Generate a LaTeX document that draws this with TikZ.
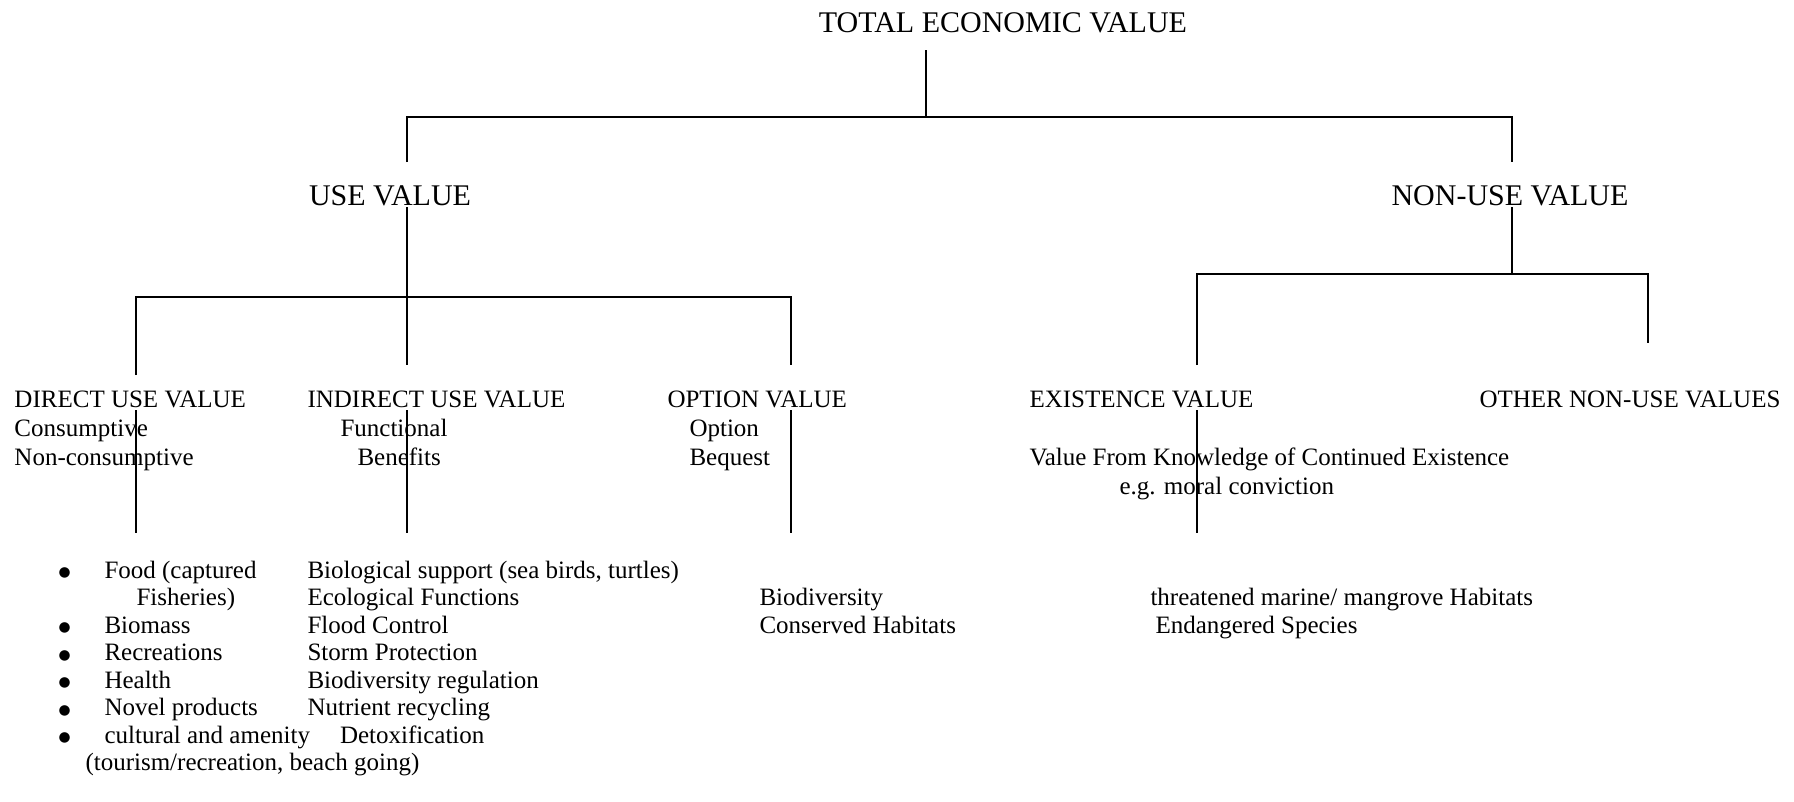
\documentclass[tikz,border=0pt]{standalone}
\usepackage{fontspec}
\setmainfont{Liberation Serif}
\newfontfamily\dotfont{DejaVu Sans}
\usepackage{tikz}
\tikzstyle{head} = [anchor=base, inner sep=0pt, font=\fontsize{12}{14}\selectfont]
\tikzstyle{block} = [anchor=base west, inner sep=0pt, font=\fontsize{10}{11.6}\selectfont]
\tikzstyle{list} = [anchor=base west, inner sep=0pt, font=\fontsize{10}{11}\selectfont]
\tikzstyle{link} = [line width=0.75pt]
\newcommand{\colrows}[1]{\begin{tabular}[t]{@{}l@{}}#1\end{tabular}}
\newcommand{\dotmark}{{\dotfont\fontsize{5.5}{6}\selectfont\raisebox{0.5pt}{●}}}

\begin{document}
\begin{tikzpicture}[x=0.4pt,y=-0.4pt]
        \useasboundingbox (0,0) rectangle (1794,801);
        % top levels
        \node (tev) [head] at (1003,32) {TOTAL ECONOMIC VALUE};
        \node (use) [head] at (390,205) {USE VALUE};
        \node (nonuse) [head] at (1510,205) {NON-USE VALUE};
        % value types
        \node (direct) [block] at (14,407) {\colrows{DIRECT USE VALUE\\Consumptive\\Non-consumptive}};
        \node (indirect) [block] at (307,407) {\colrows{INDIRECT USE VALUE\\\hspace{13.2pt}Functional\\\hspace{20pt}Benefits}};
        \node (option) [block] at (667,407) {\colrows{OPTION VALUE\\\hspace{8.8pt}Option\\\hspace{8.8pt}Bequest}};
        \node (existence) [block] at (1029,407) {\colrows{EXISTENCE VALUE\\\\Value From Knowledge of Continued Existence\\\hspace{36pt}e.g. moral conviction}};
        \node (other) [block] at (1479,407) {OTHER NON-USE VALUES};
        % examples
        \node (bullets) [list] at (58,578) {\colrows{\dotmark\\\\\dotmark\\\dotmark\\\dotmark\\\dotmark\\\dotmark}};
        \node (directex) [list] at (104,578) {\colrows{Food (captured\\\hspace{12.8pt}Fisheries)\\Biomass\\Recreations\\Health\\Novel products\\cultural and amenity}};
        \node (tourism) [list] at (85,770) {(tourism/recreation, beach going)};
        \node (indirectex) [list] at (307,578) {\colrows{Biological support (sea birds, turtles)\\Ecological Functions\\Flood Control\\Storm Protection\\Biodiversity regulation\\Nutrient recycling\\\hspace{13pt}Detoxification}};
        \node (optionex) [list] at (759,605.5) {\colrows{Biodiversity\\Conserved Habitats}};
        \node (existenceex) [list] at (1150,605.5) {\colrows{threatened marine/ mangrove Habitats\\\hspace{2pt}Endangered Species}};
        % connector ends
        \coordinate (tev-s) at (926,50);
        \coordinate (bar-top) at (926,117);
        \coordinate (use-n) at (407,162);
        \coordinate (nonuse-n) at (1512,162);
        \coordinate (use-s) at (407,207);
        \coordinate (bar-use) at (407,297);
        \coordinate (direct-n) at (136,375);
        \coordinate (indirect-n) at (407,365);
        \coordinate (option-n) at (791,365);
        \coordinate (nonuse-s) at (1512,207);
        \coordinate (bar-nonuse) at (1512,274);
        \coordinate (existence-n) at (1197,365);
        \coordinate (other-n) at (1648,343);
        \coordinate (direct-a) at (136,410);
        \coordinate (direct-b) at (136,533);
        \coordinate (indirect-a) at (407,410);
        \coordinate (indirect-b) at (407,533);
        \coordinate (option-a) at (791,410);
        \coordinate (option-b) at (791,533);
        \coordinate (existence-a) at (1197,410);
        \coordinate (existence-b) at (1197,533);
        % connectors
        \draw [link] (tev-s) -- (bar-top);
        \draw [link] (use-n) |- (bar-top) -| (nonuse-n);
        \draw [link] (use-s) -- (bar-use);
        \draw [link] (direct-n) |- (bar-use) -| (option-n);
        \draw [link] (bar-use) -- (indirect-n);
        \draw [link] (nonuse-s) -- (bar-nonuse);
        \draw [link] (existence-n) |- (bar-nonuse) -| (other-n);
        \draw [link] (direct-a) -- (direct-b);
        \draw [link] (indirect-a) -- (indirect-b);
        \draw [link] (option-a) -- (option-b);
        \draw [link] (existence-a) -- (existence-b);
    \end{tikzpicture}
\end{document}
